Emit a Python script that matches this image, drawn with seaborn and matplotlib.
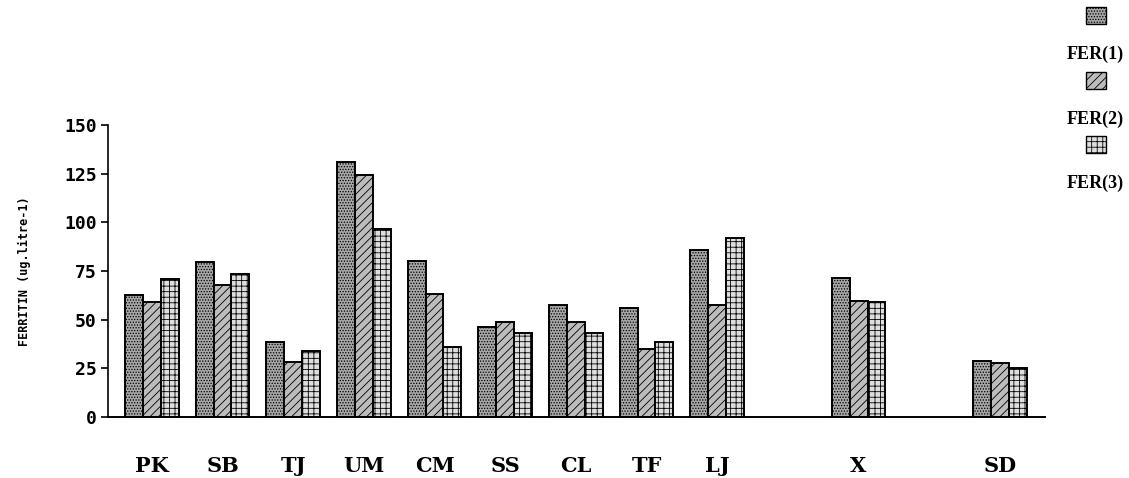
import pandas as pd
import numpy as np
import seaborn as sns
import matplotlib.pyplot as plt
from matplotlib.patches import Rectangle

# values (ferritin, ug/litre)
subjects = ["PK", "SB", "TJ", "UM", "CM", "SS", "CL", "TF", "LJ", "X", "SD"]
fer1 = [62.6, 79.5, 38.4, 131.1, 80.0, 46.2, 57.7, 56.0, 85.5, 71.3, 28.5]
fer2 = [58.9, 67.8, 28.1, 124.3, 63.0, 48.8, 48.8, 34.9, 57.3, 59.4, 27.8]
fer3 = [70.7, 73.5, 33.9, 96.3, 35.7, 43.0, 43.0, 38.3, 91.8, 58.8, 25.0]
series = ["FER(1)", "FER(2)", "FER(3)"]
y_ticks = [0, 25, 50, 75, 100, 125, 150]

df = pd.DataFrame({"Subject": subjects, "FER(1)": fer1, "FER(2)": fer2, "FER(3)": fer3})
df = df.melt(id_vars="Subject", var_name="Series", value_name="Ferritin")

# blank slots so X and SD sit apart from the rest
order = subjects[:9] + [" ", "X", "  ", "SD"]

faces = ["#a6a6a6", "#bcbcbc", "#dedede"]
hatches = ["......", "////", "+++"]

plt.rcParams["hatch.linewidth"] = 0.6
plt.rcParams["hatch.color"] = "#222222"

fig = plt.figure(figsize=(11.29, 4.78), dpi=100)
ax = fig.add_axes([0.0957, 0.128, 0.83, 0.6105])

a = sns.barplot(df, x="Subject", y="Ferritin", hue="Series", order=order, hue_order=series,
                palette=faces, width=0.76, gap=0, ax=ax, legend=False,
                edgecolor="black", linewidth=1.4, saturation=1)
for cont, h in zip(a.containers, hatches):
    for bar in cont:
        bar.set_hatch(h)

ax.set_ylim(0, 150)
ax.set_xlim(-0.62, 12.64)
ax.set_yticks(y_ticks)
ax.set_yticklabels([str(t) for t in y_ticks], fontsize=13, fontweight="bold", family="DejaVu Sans Mono")
ax.set_xticks(range(len(order)))
ax.set_xticklabels([s.strip() for s in order], fontsize=15, fontweight="bold", family="DejaVu Serif")
ax.tick_params(axis="x", length=0, pad=28)
ax.tick_params(axis="y", direction="out", length=5, width=1.2, pad=3)
ax.spines["top"].set_visible(False)
ax.spines["right"].set_visible(False)
ax.spines["left"].set_linewidth(1.2)
ax.spines["bottom"].set_linewidth(1.4)
ax.set_xlabel("")
ax.set_ylabel("FERRITIN (ug.litre-1)", fontsize=8.5, fontweight="bold", family="DejaVu Sans Mono", labelpad=24)

# legend: swatch above each label, stacked in the top-right corner
label_y = [0.887, 0.751, 0.617]
for face, h, name, ly in zip(faces, hatches, series, label_y):
    fig.add_artist(Rectangle((0.9615, ly + 0.062), 0.018, 0.036, transform=fig.transFigure,
                             facecolor=face, hatch=h, edgecolor="black", linewidth=1))
    fig.text(0.9705, ly, name, ha="center", va="center", fontsize=13, fontweight="bold",
             family="Liberation Serif")

plt.savefig("out.png", dpi=100)
